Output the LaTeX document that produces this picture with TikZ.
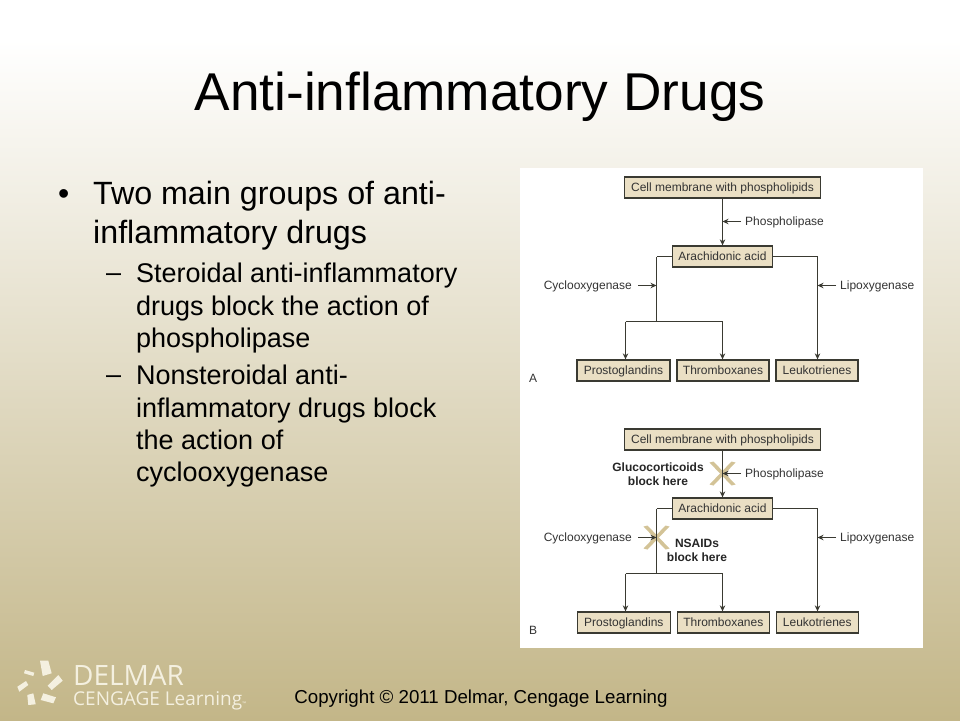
\documentclass[tikz,border=0pt]{standalone}
\usepackage{xcolor}
\usepackage{fontspec}
\setmainfont{Liberation Sans}
\newfontfamily\logofont{Open Sans}
\usetikzlibrary{calc,arrows.meta}
\definecolor{boxfill}{HTML}{EADFC4}
\definecolor{boxline}{HTML}{3A3A32}
\definecolor{crossfill}{HTML}{D3C397}
\definecolor{bgbottom}{HTML}{C3B688}
\definecolor{logotext}{HTML}{F4F0E0}
\tikzset{main node/.style={rectangle,draw=boxline,line width=1.3pt,fill=boxfill,inner sep=0pt,
            minimum height=21,text height=10pt,text depth=1.5pt,
            font=\fontsize{12}{13}\selectfont,text=black!80},
         flow label/.style={inner sep=0,text height=10pt,text depth=1.5pt,font=\fontsize{12}{13}\selectfont,text=black!80},
         block label/.style={inner sep=0,align=center,font=\fontsize{12}{13.5}\selectfont\bfseries,text=black!85},
         joint/.style={inner sep=0,minimum size=0,outer sep=0},
         flow/.style={draw=boxline,line width=1.1pt,>={Stealth[length=6pt,width=5.5pt]}},
         head/.style={inner sep=0,anchor=north west,align=left},
         list mark/.style={inner sep=0,anchor=base west},
         }
\newcommand{\crossmark}[1]{%
  \fill[crossfill] ($(#1)+(-13,-11)$) -- ($(#1)+(-9,-12)$) -- ($(#1)+(13,11)$) -- ($(#1)+(9,12)$) -- cycle;
  \fill[crossfill] ($(#1)+(13,-11)$) -- ($(#1)+(9,-12)$) -- ($(#1)+(-13,11)$) -- ($(#1)+(-9,12)$) -- cycle;
}
\begin{document}
\begin{tikzpicture}[x=1pt,y=-1pt]
	\useasboundingbox (0,0) rectangle (960,720);
	\fill[white] (0,0) rectangle (960,40);
	\shade[top color=white,bottom color=bgbottom] (0,40) rectangle (960,720);
	\fill[white] (520,168) rectangle (923,648);

	\node[inner sep=0,font=\fontsize{53.2}{60}\selectfont] (title) at (480,97) {Anti-inflammatory Drugs};

	% text column
	\node[list mark,font=\fontsize{32}{32}\selectfont] (bullet) at (58,204) {\textbullet};
	\node[head,font=\fontsize{32.2}{39}\selectfont] (main) at (93,181) {Two main groups of anti-\\inflammatory drugs};
	\node[list mark,font=\fontsize{27}{27}\selectfont] (dashA) at (106,281) {--};
	\node[head,font=\fontsize{27}{32.4}\selectfont] (subA) at (136,263) {Steroidal anti-inflammatory\\drugs block the action of\\phospholipase};
	\node[list mark,font=\fontsize{27}{27}\selectfont] (dashB) at (106,383) {--};
	\node[head,font=\fontsize{27}{32.4}\selectfont] (subB) at (136,365) {Nonsteroidal anti-\\inflammatory drugs block\\the action of\\cyclooxygenase};

	% panel A
	\begin{scope}
		\node[main node,minimum width=196] (C1) at (722.5,187.5) {Cell membrane with phospholipids};
		\node[main node,minimum width=100] (R1) at (722.5,256.5) {Arachidonic acid};
		\node[main node,minimum width=93] (P1) at (623.5,370.5) {Prostoglandins};
		\node[main node,minimum width=92] (T1) at (723,370.5) {Thromboxanes};
		\node[main node,minimum width=82] (L1) at (817,370.5) {Leukotrienes};
		\node[flow label,anchor=west] (PL1) at (745,221) {Phospholipase};
		\node[flow label,anchor=east] (CO1) at (632,285) {Cyclooxygenase};
		\node[flow label,anchor=west] (LO1) at (840,285) {Lipoxygenase};
		\node[flow label] (tagA) at (533,378) {A};
		\node[joint] (K1) at (656.5,256.5) {};
		\node[joint] (K2) at (817.5,256.5) {};
		\node[joint] (K3) at (656.5,321.5) {};
		\node[joint] (K4) at (625.5,321.5) {};
		\node[joint] (K5) at (722.5,321.5) {};
		\node[joint] (M1) at (722.5,221.5) {};
		\node[joint] (M2) at (656.5,285.5) {};
		\node[joint] (M3) at (817.5,285.5) {};

		\draw[flow,->] (C1) to (R1);
		\draw[flow,-] (R1) to (K1);
		\draw[flow,-] (K1) to (K3);
		\draw[flow,-] (K4) to (K5);
		\draw[flow,->] (K4) to (K4 |- P1.north);
		\draw[flow,->] (K5) to (K5 |- T1.north);
		\draw[flow,-] (R1) to (K2);
		\draw[flow,->] (K2) to (K2 |- L1.north);
		\draw[flow,->] (M1 -| PL1.west) ++(-4,0) to (M1);
		\draw[flow,->] (M2 -| CO1.east) ++(6,0) to (M2);
		\draw[flow,->] (M3 -| LO1.west) ++(-4,0) to (M3);
	\end{scope}

	% panel B
	\begin{scope}
		\node[main node,minimum width=196] (C2) at (722.5,439.5) {Cell membrane with phospholipids};
		\node[main node,minimum width=100] (R2) at (722.5,508.5) {Arachidonic acid};
		\node[main node,minimum width=93] (P2) at (623.8,622.5) {Prostoglandins};
		\node[main node,minimum width=92] (T2) at (723.3,622.5) {Thromboxanes};
		\node[main node,minimum width=82] (L2) at (817.3,622.5) {Leukotrienes};
		\node[joint] (X1) at (722.5,473.5) {};
		\node[joint] (X2) at (656.5,537.5) {};
		\crossmark{X1}
		\crossmark{X2}
		\node[flow label,anchor=west] (PL2) at (745,473.5) {Phospholipase};
		\node[flow label,anchor=east] (CO2) at (632,537.5) {Cyclooxygenase};
		\node[flow label,anchor=west] (LO2) at (840,537.5) {Lipoxygenase};
		\node[block label] (GL) at (658,474) {Glucocorticoids\\block here};
		\node[block label] (NS) at (697,550.5) {NSAIDs\\block here};
		\node[flow label] (tagB) at (533,630) {B};
		\node[joint] (K6) at (656.5,508.5) {};
		\node[joint] (K7) at (817.5,508.5) {};
		\node[joint] (K8) at (656.5,573.5) {};
		\node[joint] (K9) at (625.5,573.5) {};
		\node[joint] (K10) at (722.5,573.5) {};
		\node[joint] (M4) at (817.5,537.5) {};

		\draw[flow,->] (C2) to (R2);
		\draw[flow,-] (R2) to (K6);
		\draw[flow,-] (K6) to (K8);
		\draw[flow,-] (K9) to (K10);
		\draw[flow,->] (K9) to (K9 |- P2.north);
		\draw[flow,->] (K10) to (K10 |- T2.north);
		\draw[flow,-] (R2) to (K7);
		\draw[flow,->] (K7) to (K7 |- L2.north);
		\draw[flow,->] (X1 -| PL2.west) ++(-4,0) to (X1);
		\draw[flow,->] (X2 -| CO2.east) ++(6,0) to (X2);
		\draw[flow,->] (M4 -| LO2.west) ++(-4,0) to (M4);
	\end{scope}

	% logo
	\fill[logotext] (40,660.7) -- (48.3,660.7) -- (51.7,673.3) -- (42.7,676) -- cycle;
	\fill[logotext] (25,670) -- (34.3,672.7) -- (33.3,676) -- (24,673.3) -- cycle;
	\fill[logotext] (17.3,686.7) -- (26,681) -- (28.3,685) -- (19.3,691.7) -- cycle;
	\fill[logotext] (27.3,695) -- (33.3,693.3) -- (35.7,704.3) -- (28.3,705) -- cycle;
	\fill[logotext] (43.3,693.3) -- (56,697.3) -- (53.3,703.3) -- (40.7,700) -- cycle;
	\fill[logotext] (47.7,685.7) -- (58.3,675) -- (62.7,680.7) -- (51.7,690) -- cycle;
	\node[inner sep=0,anchor=base west,text=logotext,font=\logofont\fontsize{28}{28}\selectfont] (delmar) at (73,685) {DELMAR};
	\node[inner sep=0,anchor=base west,text=logotext,font=\logofont\fontsize{19}{19}\selectfont] (cengage) at (73,705) {CENGAGE Learning{\fontsize{5}{5}\selectfont ™}};

	\node[inner sep=0,anchor=base,font=\fontsize{18.7}{20}\selectfont] (copy) at (481,703) {Copyright © 2011 Delmar, Cengage Learning};
\end{tikzpicture}
\end{document}
